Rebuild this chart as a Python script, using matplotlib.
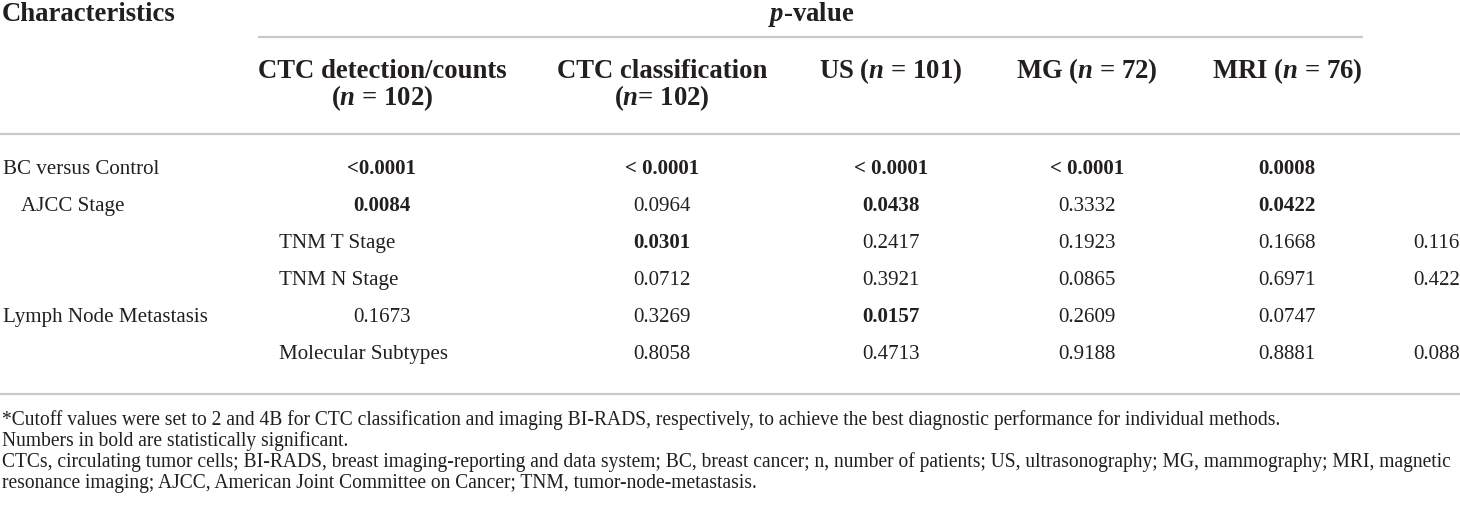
import matplotlib
matplotlib.use("Agg")
import matplotlib.pyplot as plt

plt.rcParams["font.family"] = ["Liberation Serif", "DejaVu Serif"]
plt.rcParams["mathtext.fontset"] = "custom"
plt.rcParams["mathtext.it"] = "Liberation Serif:italic:bold"
plt.rcParams["mathtext.rm"] = "Liberation Serif:bold"

# table content
stub_title = "Characteristics"
group_title = "$p$-value"
col_heads = [
    ["CTC detection/counts", "($n$ = 102)"],
    ["CTC classification", "($n$= 102)"],
    ["US ($n$ = 101)"],
    ["MG ($n$ = 72)"],
    ["MRI ($n$ = 76)"],
]
row_cells = [
    ["BC versus Control", "<0.0001", "< 0.0001", "< 0.0001", "< 0.0001", "0.0008", ""],
    ["AJCC Stage", "0.0084", "0.0964", "0.0438", "0.3332", "0.0422", ""],
    ["", "TNM T Stage", "0.0301", "0.2417", "0.1923", "0.1668", "0.116"],
    ["", "TNM N Stage", "0.0712", "0.3921", "0.0865", "0.6971", "0.422"],
    ["Lymph Node Metastasis", "0.1673", "0.3269", "0.0157", "0.2609", "0.0747", ""],
    ["", "Molecular Subtypes", "0.8058", "0.4713", "0.9188", "0.8881", "0.088"],
]
row_bold = [
    [False, True, True, True, True, True, False],
    [False, True, False, True, False, True, False],
    [False, False, True, False, False, False, False],
    [False, False, False, False, False, False, False],
    [False, False, False, True, False, False, False],
    [False, False, False, False, False, False, False],
]
row_indent = [0, 1, 0, 0, 0, 0]
footnotes = [
    "*Cutoff values were set to 2 and 4B for CTC classification and imaging BI-RADS, "
    "respectively, to achieve the best diagnostic performance for individual methods.",
    "Numbers in bold are statistically significant.",
    "CTCs, circulating tumor cells; BI-RADS, breast imaging-reporting and data system; "
    "BC, breast cancer; n, number of patients; US, ultrasonography; MG, mammography; MRI, magnetic",
    "resonance imaging; AJCC, American Joint Committee on Cancer; TNM, tumor-node-metastasis.",
]

W, H = 1460, 506
ink = "#231f20"
rule = "#c9c9c9"

fig = plt.figure(figsize=(W / 100, H / 100), dpi=100)
ax = fig.add_axes([0, 0, 1, 1])
ax.set_xlim(0, W)
ax.set_ylim(H, 0)
ax.axis("off")

col_x = [3, 382, 662, 891, 1087, 1287, 1413]
stub_left = 279
head_size, body_size, note_size = 19.3, 15.1, 14.05

# header
ax.text(2, 21, stub_title, fontsize=head_size, fontweight="bold", color=ink, va="baseline")
ax.text(811, 21, group_title, fontsize=head_size, fontweight="bold", color=ink,
        ha="center", va="baseline")
ax.plot([258, 1363], [38, 38], color=rule, lw=1.6, solid_capstyle="butt")
for j, lines in enumerate(col_heads):
    for k, s in enumerate(lines):
        ax.text(col_x[j + 1], 78 + 27 * k, s, fontsize=head_size, fontweight="bold",
                color=ink, ha="center", va="baseline")
ax.plot([0, W], [135, 135], color=rule, lw=1.6, solid_capstyle="butt")

# body
for i, cells in enumerate(row_cells):
    y = 174 + 37 * i
    for j, s in enumerate(cells):
        if not s:
            continue
        wt = "bold" if row_bold[i][j] else "normal"
        if j == 0:
            x, ha = col_x[0] + 18 * row_indent[i], "left"
        elif s[0].isalpha():
            x, ha = stub_left, "left"
        elif j == 6:
            x, ha = col_x[6], "left"
        else:
            x, ha = col_x[j], "center"
        ax.text(x, y, s, fontsize=body_size, fontweight=wt, color=ink, ha=ha, va="baseline")

ax.plot([0, W], [395, 395], color=rule, lw=1.6, solid_capstyle="butt")

for k, s in enumerate(footnotes):
    ax.text(2, 425 + 21 * k, s, fontsize=note_size, color=ink, va="baseline")

fig.savefig("out.png", dpi=100)
